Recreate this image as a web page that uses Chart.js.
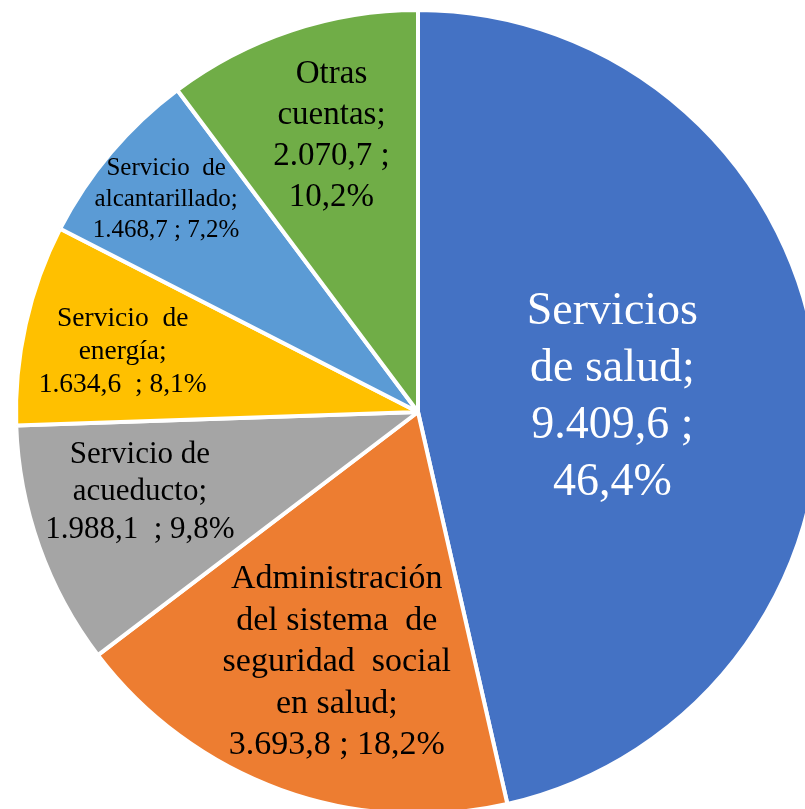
<!DOCTYPE html>
<html>
<head>
<meta charset="utf-8">
<script src="https://cdn.jsdelivr.net/npm/chart.js@4"></script>
<style>
  html, body { margin: 0; padding: 0; background: #fff; }
  #wrap { position: relative; width: 805px; height: 809px; overflow: hidden; }
  #pie { position: absolute; left: 0; top: 0; }
</style>
</head>
<body>
<div id="wrap"><canvas id="pie" width="836" height="824"></canvas></div>
<script>
// cuentas por cobrar (miles de millones)
const categories = ["Servicios de salud", "Administración del sistema de seguridad social en salud",
  "Servicio de acueducto", "Servicio de energía", "Servicio de alcantarillado", "Otras cuentas"];
const values = [9409.6, 3693.8, 1988.1, 1634.6, 1468.7, 2070.7];
const percents = ["46,4%", "18,2%", "9,8%", "8,1%", "7,2%", "10,2%"];
const valueLabels = ["9.409,6", "3.693,8", "1.988,1", "1.634,6", "1.468,7", "2.070,7"];
const colors = ["#4472C4", "#ED7D31", "#A5A5A5", "#FFC000", "#5B9BD5", "#70AD47"];

// label text split by lines, as in the original
const labelLines = [
  ["Servicios", "de salud;", "9.409,6 ;", "46,4%"],
  ["Administración", "del sistema  de", "seguridad  social", "en salud;", "3.693,8 ; 18,2%"],
  ["Servicio de", "acueducto;", "1.988,1  ; 9,8%"],
  ["Servicio  de", "energía;", "1.634,6  ; 8,1%"],
  ["Servicio  de", "alcantarillado;", "1.468,7 ; 7,2%"],
  ["Otras", "cuentas;", "2.070,7 ;", "10,2%"]
];
// placement of each label inside its slice
const labelStyle = [
  { frac: 0.485, shift: 2, size: 46, lh: 57, color: "#fff" },
  { frac: 0.655, shift: -2, size: 34, lh: 41.5, color: "#000" },
  { frac: 0.72, shift: 3.5, size: 31, lh: 37.5, color: "#000" },
  { frac: 0.75, shift: -1, size: 27.5, lh: 33, color: "#000" },
  { frac: 0.82, shift: 0, size: 25, lh: 31, color: "#000" },
  { frac: 0.72, shift: 1, size: 33, lh: 41, color: "#000" }
];

const sliceLabels = {
  id: "sliceLabels",
  afterDatasetsDraw(chart) {
    const ctx = chart.ctx;
    const meta = chart.getDatasetMeta(0);
    meta.data.forEach((arc, i) => {
      const st = labelStyle[i];
      const mid = (arc.startAngle + arc.endAngle) / 2 + st.shift * Math.PI / 180;
      const r = arc.outerRadius * st.frac;
      const cx = arc.x + Math.cos(mid) * r;
      const cy = arc.y + Math.sin(mid) * r;
      const lines = labelLines[i];
      ctx.save();
      ctx.font = st.size + "px 'Liberation Serif', 'Times New Roman', serif";
      ctx.fillStyle = st.color;
      ctx.textAlign = "center";
      ctx.textBaseline = "middle";
      const y0 = cy - (lines.length - 1) * st.lh / 2;
      lines.forEach((t, k) => ctx.fillText(t, cx, y0 + k * st.lh));
      ctx.restore();
    });
  }
};

new Chart(document.getElementById("pie").getContext("2d"), {
  type: "pie",
  data: {
    labels: categories,
    datasets: [{
      data: values,
      backgroundColor: colors,
      borderColor: "#fff",
      borderWidth: 4
    }]
  },
  options: {
    responsive: false,
    animation: false,
    layout: { padding: { top: 8, bottom: 8 } },
    plugins: {
      legend: { display: false },
      tooltip: { enabled: false }
    }
  },
  plugins: [sliceLabels]
});
</script>
</body>
</html>
